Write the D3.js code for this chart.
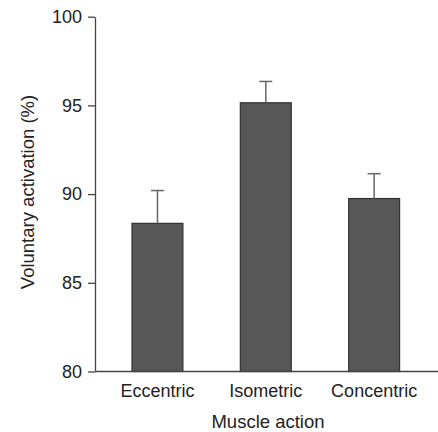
<!DOCTYPE html>
<html><head><meta charset="utf-8">
<script src="https://cdn.jsdelivr.net/npm/d3@7"></script>
<style>
body{margin:0;background:#fff;}
svg{display:block;font-family:"Liberation Sans",Arial,Helvetica,sans-serif;}
</style></head>
<body><svg id="c" width="438" height="432"></svg>
<script>
const categories = ["Eccentric","Isometric","Concentric"];
const means = [88.35, 95.15, 89.75];
const errors = [1.85, 1.2, 1.4];
const yTicks = [80,85,90,95,100];

const svg = d3.select("#c");
const y = d3.scaleLinear().domain([80,100]).range([371.5,16.7]);
const x = d3.scaleBand().domain(categories).range([103.3,428.3]).paddingInner(0.53).paddingOuter(0.265);
const axisColor = "#444";
const textColor = "#222";

// bars
svg.append("g").selectAll("rect").data(categories).join("rect")
  .attr("x", d=>x(d)).attr("width", x.bandwidth())
  .attr("y", (d,i)=>y(means[i])).attr("height", (d,i)=>y(80)-y(means[i]))
  .attr("fill","#575757").attr("stroke","#333").attr("stroke-width",1.2);

// error bars
const eb = svg.append("g").attr("stroke","#666").attr("stroke-width",1.5);
categories.forEach((c,i)=>{
  const cx = x(c)+x.bandwidth()/2;
  eb.append("line").attr("x1",cx).attr("x2",cx).attr("y1",y(means[i])).attr("y2",y(means[i]+errors[i]));
  eb.append("line").attr("x1",cx-6.5).attr("x2",cx+6.5).attr("y1",y(means[i]+errors[i])).attr("y2",y(means[i]+errors[i]));
});

// y axis
const ya = svg.append("g").attr("transform","translate(95,0)")
  .call(d3.axisLeft(y).tickValues(yTicks).tickSize(7).tickSizeOuter(0).tickPadding(6));
ya.select(".domain").attr("stroke",axisColor).attr("stroke-width",1.3);
ya.selectAll(".tick line").attr("stroke",axisColor).attr("stroke-width",1.3);
ya.selectAll(".tick text").attr("fill",textColor).style("font-size","18px");

// x axis
const xa = svg.append("g").attr("transform","translate(0,371.5)")
  .call(d3.axisBottom(x).tickSize(0).tickPadding(13));
xa.select(".domain").remove();
xa.selectAll(".tick text").attr("fill",textColor).style("font-size","18px");
svg.append("line").attr("x1",95).attr("x2",438).attr("y1",y(80)).attr("y2",y(80))
  .attr("stroke",axisColor).attr("stroke-width",1.3);

// titles
svg.append("text").attr("x",268).attr("y",428).attr("text-anchor","middle")
  .attr("fill",textColor).style("font-size","18.5px").text("Muscle action");
svg.append("text").attr("transform","translate(34,192) rotate(-90)").attr("text-anchor","middle")
  .attr("fill",textColor).style("font-size","18.5px").text("Voluntary activation (%)");
</script></body></html>
